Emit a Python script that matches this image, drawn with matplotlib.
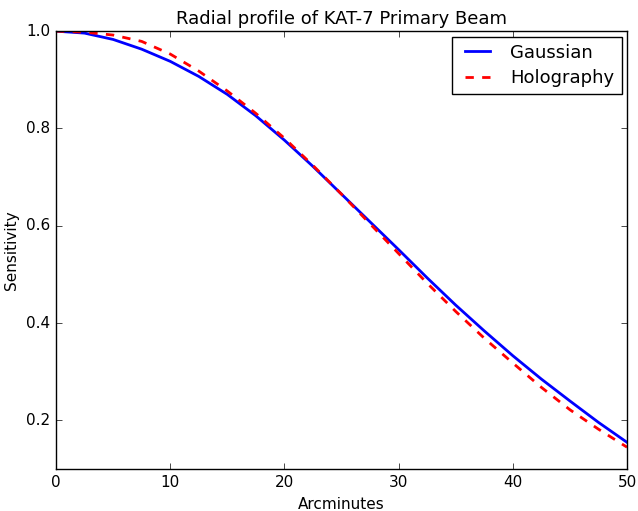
import matplotlib
matplotlib.use("Agg")
import matplotlib.pyplot as plt

# radial offset (arcmin) and beam sensitivity
arcmin = [0, 2.5, 5, 7.5, 10, 12.5, 15, 17.5, 20, 22.5, 25,
          27.5, 30, 32.5, 35, 37.5, 40, 42.5, 45, 47.5, 50]
gaussian = [1.000, 0.996, 0.983, 0.963, 0.938, 0.907, 0.870, 0.826, 0.776, 0.722, 0.665,
            0.608, 0.551, 0.493, 0.437, 0.384, 0.333, 0.285, 0.240, 0.196, 0.155]
holography = [1.000, 0.998, 0.992, 0.979, 0.953, 0.918, 0.877, 0.831, 0.780, 0.724, 0.665,
              0.604, 0.543, 0.482, 0.424, 0.369, 0.318, 0.268, 0.222, 0.182, 0.145]

plt.style.use("classic")
fig = plt.figure(figsize=(6.38, 5.11), dpi=100, facecolor="white")
ax = fig.add_axes([0.0878, 0.082, 0.895, 0.857])

ax.plot(arcmin, gaussian, "b-", lw=2, label="Gaussian")
ax.plot(arcmin, holography, "r--", lw=2, label="Holography")

ax.set_xlim(0, 50)
ax.set_ylim(0.1, 1.0)
ax.set_yticks([0.2, 0.4, 0.6, 0.8, 1.0])
ax.set_title("Radial profile of KAT-7 Primary Beam", fontsize=13)
ax.set_xlabel("Arcminutes", fontsize=11)
ax.set_ylabel("Sensitivity", fontsize=11)
ax.tick_params(labelsize=11)
ax.legend(loc="upper right", fontsize=13, borderaxespad=0.3, labelspacing=0.4)

fig.savefig("out.png", dpi=100, facecolor="white")
